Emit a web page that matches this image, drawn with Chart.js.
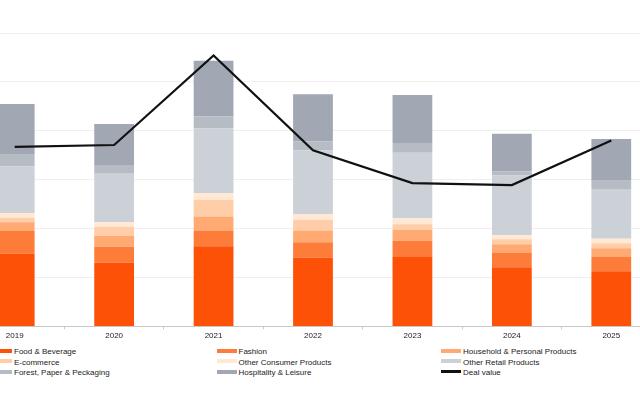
<!DOCTYPE html>
<html lang="en">
<head>
  <meta charset="UTF-8">
  <title>Deal value by sector</title>
  <script src="https://cdn.jsdelivr.net/npm/chart.js"></script>
  <style>
    body {
      margin: 0;
      width: 640px;
      height: 396px;
      overflow: hidden;
      background: #fff;
      font-family: 'Liberation Sans', Arial, sans-serif;
      position: relative;
    }
    #wrap {
      position: absolute;
      left: -35px;
      top: 0;
      width: 696px;
      height: 343px;
    }
    .item {
      position: absolute;
      font-size: 8px;
      line-height: 10px;
      color: #222;
      white-space: nowrap;
    }
    .item span {
      display: inline-block;
      width: 20px;
      vertical-align: middle;
      margin-right: 2px;
      position: relative;
      top: -1px;
    }
  </style>
</head>
<body>
  <div id="wrap"><canvas id="chart"></canvas></div>
  <div id="legend"></div>

  <script>
    const years = ['2019', '2020', '2021', '2022', '2023', '2024', '2025'];

    const foodBeverage   = [14.9, 13.0, 16.4, 14.1, 14.2, 12.1, 11.3];
    const fashion        = [4.6, 3.3, 3.2, 3.1, 3.3, 2.9, 2.9];
    const household      = [1.8, 2.2, 2.9, 2.4, 2.2, 1.8, 1.8];
    const ecommerce      = [0.9, 1.9, 3.4, 2.2, 1.2, 1.0, 1.0];
    const otherConsumer  = [1.0, 0.9, 1.4, 1.2, 1.2, 0.9, 0.9];
    const otherRetail    = [9.5, 9.9, 13.2, 13.0, 13.4, 12.2, 10.2];
    const forestPaper    = [2.4, 1.8, 2.5, 1.8, 2.0, 0.8, 1.7];
    const hospitality    = [10.4, 8.4, 11.3, 9.7, 9.8, 7.7, 8.5];
    const dealValue      = [36.7, 37.1, 55.4, 36.0, 29.3, 28.9, 38.0];

    const yTicks = [0, 10, 20, 30, 40, 50, 60];

    const series = [
      { label: 'Food & Beverage', data: foodBeverage, color: '#fd5108' },
      { label: 'Fashion', data: fashion, color: '#fe7c39' },
      { label: 'Household & Personal Products', data: household, color: '#ffaa72' },
      { label: 'E-commerce', data: ecommerce, color: '#ffcda8' },
      { label: 'Other Consumer Products', data: otherConsumer, color: '#ffe8d4' },
      { label: 'Other Retail Products', data: otherRetail, color: '#cbd1d6' },
      { label: 'Forest, Paper & Peckaging', data: forestPaper, color: '#b5bcc4' },
      { label: 'Hospitality & Leisure', data: hospitality, color: '#a1a8b3' }
    ];

    const datasets = series.map(s => ({
      type: 'bar',
      label: s.label,
      data: s.data,
      backgroundColor: s.color,
      categoryPercentage: 1,
      barPercentage: 0.4,
      order: 1
    }));

    datasets.push({
      type: 'line',
      label: 'Deal value',
      data: dealValue,
      borderColor: '#111',
      borderWidth: 2.2,
      pointRadius: 0,
      tension: 0,
      stack: 'deal',
      order: 0
    });

    new Chart(document.getElementById('chart'), {
      data: { labels: years, datasets: datasets },
      options: {
        responsive: true,
        maintainAspectRatio: false,
        animation: false,
        layout: { padding: { top: 33, left: 0, right: 0, bottom: 0 } },
        plugins: { legend: { display: false }, tooltip: { enabled: false } },
        scales: {
          x: {
            stacked: true,
            offset: true,
            grid: { drawOnChartArea: false, drawTicks: true, tickLength: 3, color: '#c8c8c8', offset: true },
            border: { color: '#c8c8c8' },
            ticks: { color: '#222', padding: 2, maxRotation: 0, font: { family: 'Liberation Sans', size: 8 } }
          },
          y: {
            stacked: true,
            min: yTicks[0],
            max: yTicks[yTicks.length - 1],
            afterBuildTicks: axis => { axis.ticks = yTicks.map(v => ({ value: v })); },
            ticks: { display: false },
            grid: { color: '#efefef', drawTicks: false },
            border: { display: false },
            afterFit: axis => { axis.width = 0; }
          }
        }
      }
    });

    // legend, three columns
    const legend = document.getElementById('legend');
    const items = series.map(s => ({ label: s.label, color: s.color, h: 4 }))
      .concat([{ label: 'Deal value', color: '#111', h: 3 }]);
    items.forEach((it, i) => {
      const col = i % 3, row = Math.floor(i / 3);
      const d = document.createElement('div');
      d.className = 'item';
      d.style.left = (-8 + col * 224.5) + 'px';
      d.style.top = (347 + row * 10.5) + 'px';
      d.innerHTML = `<span style="height:${it.h}px;background:${it.color}"></span>${it.label}`;
      legend.appendChild(d);
    });
  </script>
</body>
</html>
